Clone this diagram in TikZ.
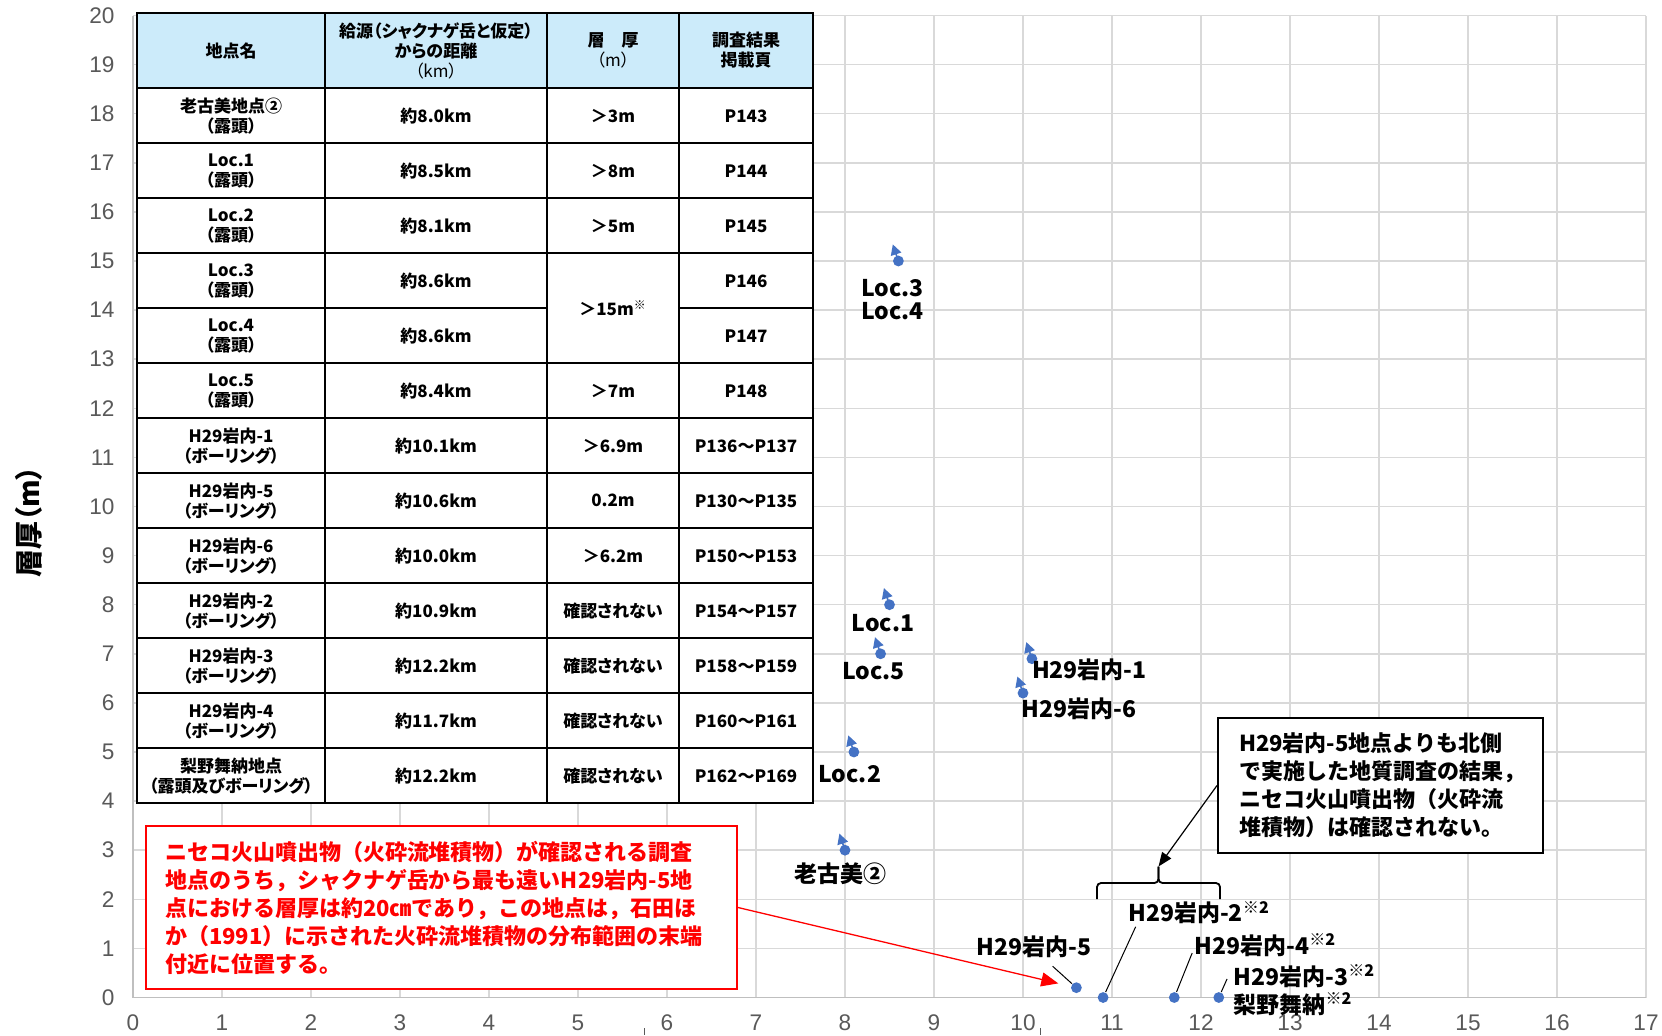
\documentclass[tikz,border=0pt]{standalone}
\usepackage{fontspec}
\setmainfont{Noto Sans CJK JP}
\newfontfamily\tabfont{Noto Sans CJK JP}[RawFeature=+palt]
\newfontfamily\tickfont{Liberation Sans}
\usetikzlibrary{arrows.meta}

\definecolor{ptblue}{HTML}{4472C4}
\definecolor{gridgray}{HTML}{D9D9D9}
\definecolor{axisgray}{HTML}{BFBFBF}
\definecolor{tickgray}{HTML}{595959}
\definecolor{headblue}{HTML}{CCEBFA}
\definecolor{warnred}{HTML}{FF0000}

\begin{document}
\begin{tikzpicture}[
        x = 0.5pt, y = -0.5pt, % one unit = one pixel, y downwards
        semithick % line style
    ]

    \tikzstyle{every node}=[inner sep = 2pt]
    \tikzstyle{gridline}=[draw = gridgray, line width = 0.75pt]
    \tikzstyle{axisline}=[draw = axisgray, line width = 0.8pt]
    \tikzstyle{ytick}=[font = \tickfont\fontsize{11.3}{12}\selectfont,
    text = tickgray, anchor = east, inner sep = 0pt]
    \tikzstyle{xtick}=[font = \tickfont\fontsize{11.3}{12}\selectfont,
    text = tickgray, inner sep = 0pt]
    \tikzstyle{tabline}=[draw = black, line width = 0.9pt]
    \tikzstyle{cell}=[font = \tabfont\bfseries\fontsize{8.5}{10}\selectfont,
    align = center]
    \tikzstyle{datapt}=[circle, fill = ptblue, inner sep = 0pt,
    minimum size = 5.4pt]
    \tikzstyle{uparrow}=[draw = ptblue, line width = 0.8pt,
    -{Triangle[width = 5.4pt, length = 5.2pt]}]
    \tikzstyle{ptlabel}=[font = \bfseries\fontsize{11.5}{11.7}\selectfont,
    align = center]
    \tikzstyle{leader}=[draw = black, line width = 0.5pt]
    \tikzstyle{warnbox}=[draw = warnred, line width = 1pt, fill = white,
    text = warnred, font = \bfseries\fontsize{11}{14}\selectfont,
    align = left, text width = 276.5pt, inner xsep = 9.5pt,
    inner ysep = 0pt, minimum height = 81.5pt, anchor = north west]
    \tikzstyle{notebox}=[draw = black, line width = 1pt, fill = white,
    font = \bfseries\fontsize{11}{14}\selectfont, align = left,
    text width = 141.5pt, inner xsep = 10.5pt, inner ysep = 0pt,
    minimum height = 67.5pt, anchor = north west]
    \tikzstyle{warnarrow}=[draw = warnred, line width = 0.65pt,
    -{Triangle[length = 8.5pt, width = 7pt]}, shorten > = 6.3pt]
    \tikzstyle{notearrow}=[draw = black, line width = 0.6pt,
    -{Triangle[length = 7pt, width = 5.5pt]}]
    \tikzstyle{bracestroke}=[draw = black, line width = 0.9pt,
    rounded corners = 2pt]

    \fill[white] (0,0) rectangle (1662,1035);
    \useasboundingbox (0,0) rectangle (1662,1035);

    % chart grid and axes
    \begin{scope}[shift = {(133,997.5)}, x = 44.5pt, y = 24.55pt]
        \foreach \x in {1,...,17} \draw[gridline] (\x,0) -- (\x,20);
        \foreach \y in {1,...,20} \draw[gridline] (0,\y) -- (17,\y);
        \draw[axisline] (0,0) -- (17,0); \draw[axisline] (0,0) -- (0,20);
        \foreach \y in {0,...,20} \node[ytick] (yt\y) at (0,\y)
        [xshift = -9pt] {\y};
        \foreach \x in {0,...,17} \node[xtick] (xt\x) at (\x,0)
        [yshift = -12.5pt] {\x};
    \end{scope}

    \node (ytitle) [rotate = 90, font = \tabfont\bfseries\fontsize{14}{14}\selectfont]
    at (29,522) {層厚（m）};

    \draw[tickgray, line width = 0.5pt] (644,1028) -- (644,1035);
    \draw[tickgray, line width = 0.5pt] (1040,1028) -- (1040,1035);

    % table
    \fill[headblue] (137,12.7) rectangle (813,88.3);
    \fill[white] (137,88.3) rectangle (813,803.3);
    \draw[tabline] (137,12.7) rectangle (813,803.3);
    \foreach \c in {325,547,679} \draw[tabline] (\c,12.7) -- (\c,803.3);
    \foreach \k in {0,1,2,3,5,6,7,8,9,10,11,12}
    \draw[tabline] (137,{88.3+55*\k}) -- (813,{88.3+55*\k});
    \draw[tabline] (137,308.3) -- (547,308.3); \draw[tabline] (679,308.3)
    -- (813,308.3);

    \node[cell] (head1) at (231,50.5) {地点名};
    \node[cell] (head2) at (436,50.5) {給源（シャクナゲ岳と仮定）\\からの距離\\{\mdseries （km）}};
    \node[cell] (head3) at (613,50.5) {層　厚\\{\mdseries （m）}};
    \node[cell] (head4) at (746,50.5) {調査結果\\掲載頁};

    \foreach \k/\site/\dist/\page in {
        1/{老古美地点②\\（露頭）}/約8.0km/P143,
        2/{Loc.1\\（露頭）}/約8.5km/P144,
        3/{Loc.2\\（露頭）}/約8.1km/P145,
        4/{Loc.3\\（露頭）}/約8.6km/P146,
        5/{Loc.4\\（露頭）}/約8.6km/P147,
        6/{Loc.5\\（露頭）}/約8.4km/P148,
        7/{H29岩内-1\\（ボーリング）}/約10.1km/P136～P137,
        8/{H29岩内-5\\（ボーリング）}/約10.6km/P130～P135,
        9/{H29岩内-6\\（ボーリング）}/約10.0km/P150～P153,
        10/{H29岩内-2\\（ボーリング）}/約10.9km/P154～P157,
        11/{H29岩内-3\\（ボーリング）}/約12.2km/P158～P159,
        12/{H29岩内-4\\（ボーリング）}/約11.7km/P160～P161,
        13/{梨野舞納地点\\（露頭及びボーリング）}/約12.2km/P162～P169}
    {
        \node[cell] (site\k) at (231,{60.8+55*\k}) {\site};
        \node[cell] (dist\k) at (436,{60.8+55*\k}) {\dist};
        \node[cell] (page\k) at (746,{60.8+55*\k}) {\page};
    }
    \foreach \k/\thk in {1/＞3m, 2/＞8m, 3/＞5m, 6/＞7m, 7/＞6.9m, 8/0.2m,
        9/＞6.2m, 10/確認されない, 11/確認されない, 12/確認されない,
        13/確認されない}
    \node[cell] (thk\k) at (613,{60.8+55*\k}) {\thk};
    \node[cell] (thk45) at (613,308.3) {＞15m\textsuperscript{※}};

    % notes
    \node[warnbox] (warn) at (145,825) {ニセコ火山噴出物（火砕流堆積物）が確認される調査\\
        地点のうち，シャクナゲ岳から最も遠いH29岩内-5地\\
        点における層厚は約20㎝であり，この地点は，石田ほ\\
        か（1991）に示された火砕流堆積物の分布範囲の末端\\
        付近に位置する。};
    \node[notebox] (note) at (1217,717) {H29岩内-5地点よりも北側\\
        で実施した地質調査の結果，\\
        ニセコ火山噴出物（火砕流\\
        堆積物）は確認されない。};

    % data points
    \begin{scope}[shift = {(133,997.5)}, x = 44.5pt, y = 24.55pt]
        \node[datapt] (okm) at (8.0,3) {}; \node[datapt] (loc1) at (8.5,8) {};
        \node[datapt] (loc2) at (8.1,5) {}; \node[datapt] (loc34) at (8.6,15) {};
        \node[datapt] (loc5) at (8.4,7) {}; \node[datapt] (h1) at (10.1,6.9) {};
        \node[datapt] (h6) at (10.0,6.2) {}; \node[datapt] (h5) at (10.6,0.2) {};
        \node[datapt] (h2) at (10.9,0) {}; \node[datapt] (h4) at (11.7,0) {};
        \node[datapt] (h3) at (12.2,0) {};

        \foreach \p in {okm,loc1,loc2,loc34,loc5,h1,h6}
        \draw[uparrow] (\p.center) -- ++(-2.8pt,8.3pt);

        \node[ptlabel] (lloc34) at (8.533,14.21) {Loc.3\\Loc.4};
        \node[ptlabel] (lloc1) at (8.426,7.63) {Loc.1};
        \node[ptlabel] (lloc5) at (8.319,6.656) {Loc.5};
        \node[ptlabel] (lloc2) at (8.054,4.552) {Loc.2};
        \node[ptlabel] (lokm) at (7.944,2.529) {老古美②};
        \node[ptlabel] (lh1) at (10.747,6.684) {H29岩内-1};
        \node[ptlabel] (lh6) at (10.63,5.89) {H29岩内-6};
        \node[ptlabel] (lh5) at (10.124,1.035) {H29岩内-5};
        \node[ptlabel] (lh2) at (11.978,1.727) {H29岩内-2\textsuperscript{※2}};
        \node[ptlabel] (lh4) at (12.725,1.069) {H29岩内-4\textsuperscript{※2}};
        \node[ptlabel, align = left, anchor = west,
        font = \bfseries\fontsize{11.5}{14}\selectfont] (lh3) at (12.315,0.153)
        {H29岩内-3\textsuperscript{※2}\\梨野舞納\textsuperscript{※2}};

        \draw[leader] ([xshift = 9.3pt, yshift = -2pt]lh5.south) -- (h5);
        \draw[leader] ([xshift = 6pt, yshift = 1pt]lh2.south west) -- (h2);
        \draw[leader] ([xshift = 1pt, yshift = 4pt]lh4.south west) -- (h4);
        \draw[leader] ([xshift = -1pt, yshift = 5.5pt]lh3.west) -- (h3);
    \end{scope}

    % brace and arrows
    \coordinate (bracetip) at (1158.5,866.5);
    \draw[bracestroke] (1097,899) -- (1097,883) -- (1158.5,883) -- (bracetip);
    \draw[bracestroke] (bracetip) -- (1158.5,883) -- (1220,883) -- (1220,899);
    \draw[notearrow] (note.west) -- (bracetip);
    \draw[warnarrow] (warn.east) -- (h5);

\end{tikzpicture}
\end{document}
